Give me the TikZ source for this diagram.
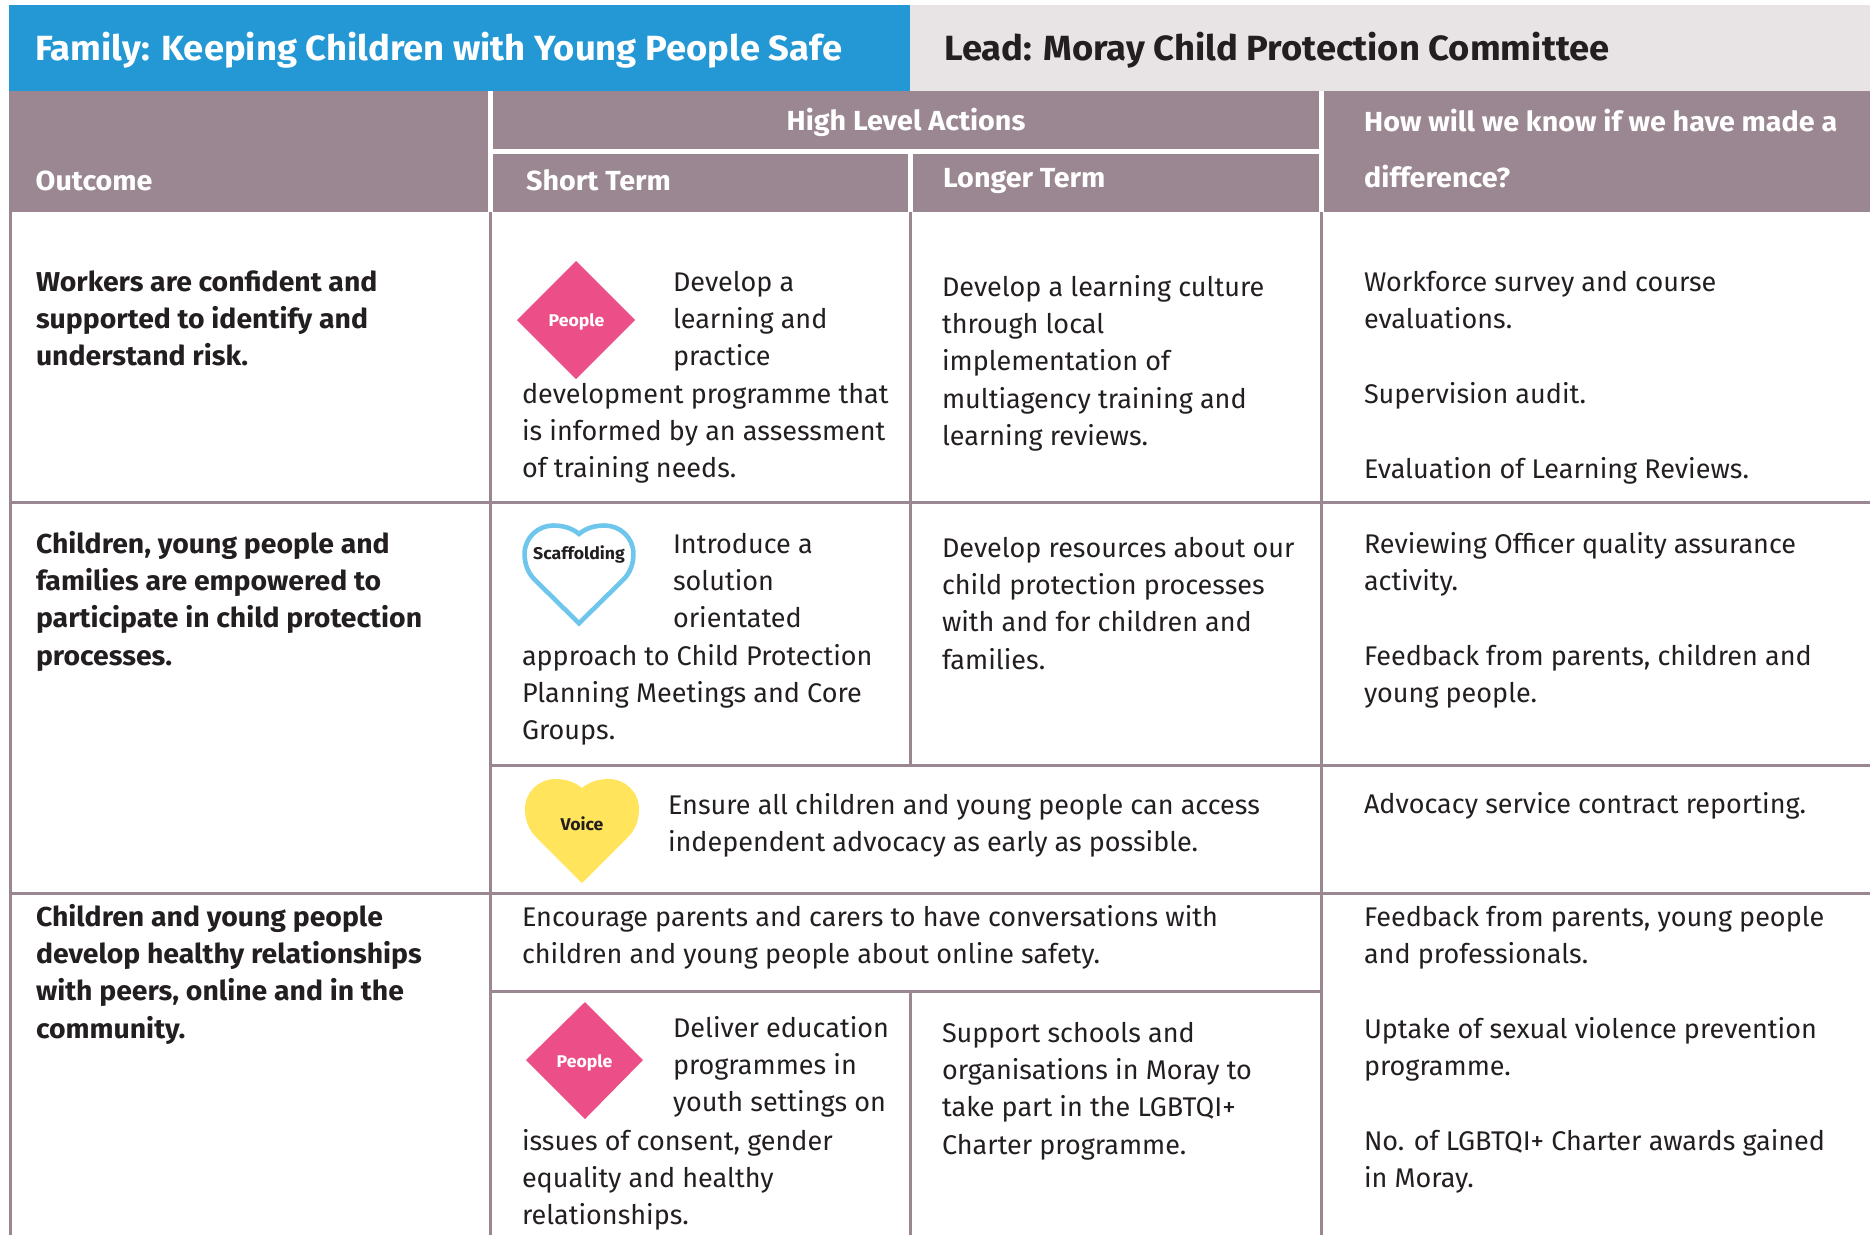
\documentclass[tikz,border=0pt]{standalone}
\usepackage{fontspec}
\setmainfont[BoldFeatures={FakeStretch=1.04}]{Fira Sans}
\definecolor{mauve}{HTML}{9A8791}
\definecolor{topblue}{HTML}{2398D5}
\definecolor{palegrey}{HTML}{E8E4E6}
\definecolor{ink}{HTML}{231F20}
\definecolor{pink}{HTML}{EC4F87}
\definecolor{skyline}{HTML}{6EC6EC}
\definecolor{sun}{HTML}{FFE45C}
\newcommand{\myheart}[5]{% cx, top, xscale, yscale, path options
  \path[#5,shift={(#1,#2)},xscale=#3,yscale=#4]
    (0,104) -- (-46,58) .. controls (-53,51) and (-57,42) .. (-57,30)
    .. controls (-57,13) and (-43,0) .. (-27,0)
    .. controls (-16,0) and (-7,3) .. (0,9)
    .. controls (7,3) and (16,0) .. (27,0)
    .. controls (43,0) and (57,13) .. (57,30)
    .. controls (57,42) and (53,51) .. (46,58) -- cycle;}
\tikzset{
  x=1pt,y=-1pt,
  body/.style={anchor=north west,inner sep=0pt,outer sep=0pt,align=left,text=ink,
    font=\fontsize{27}{37.4}\selectfont,yshift=26.18pt},
  bodyb/.style={body,font=\bfseries\fontsize{27.3}{37.4}\selectfont},
  title/.style={anchor=base west,inner sep=0pt,font=\bfseries\fontsize{35}{40}\selectfont},
  headtxt/.style={anchor=base west,inner sep=0pt,text=white,font=\bfseries\fontsize{27.6}{30}\selectfont},
  headtwo/.style={anchor=north west,inner sep=0pt,align=left,text=white,
    font=\bfseries\fontsize{27.6}{56}\selectfont,yshift=39.2pt},
  badge/.style={inner sep=0pt,font=\bfseries\fontsize{17}{20}\selectfont},
  grid/.style={draw=mauve,line width=3pt},
  gap/.style={draw=white,line width=5pt},
}
\begin{document}
\begin{tikzpicture}
\useasboundingbox (0,0) rectangle (1870,1235);
% banner
\fill[topblue] (9,5) rectangle (910,91);
\fill[palegrey] (910,5) rectangle (1870,91);
\fill[mauve] (9,91) rectangle (1870,212);
\draw[gap] (490,91) -- (490,212);
\draw[gap] (1321,91) -- (1321,212);
\draw[gap] (490,151) -- (1321,151);
\draw[gap] (910,151) -- (910,212);
% grid
\draw[grid] (10.5,212) -- (10.5,1235);
\draw[grid] (490,212) -- (490,1235);
\draw[grid] (910,212) -- (910,765);
\draw[grid] (910,991) -- (910,1235);
\draw[grid] (1321,212) -- (1321,1235);
\draw[grid] (9,502) -- (1870,502);
\draw[grid] (490,765) -- (1870,765);
\draw[grid] (9,893) -- (1870,893);
\draw[grid] (490,991) -- (1321,991);
% titles
\node[title,text=white] (family) at (35,60.5) {Family: Keeping Children with Young People Safe};
\node[title,text=ink] (lead) at (944,60.5) {Lead: Moray Child Protection Committee};
\node[headtxt] (outcome) at (35.5,190) {Outcome};
\node[headtxt,anchor=base] (high) at (906,130) {High Level Actions};
\node[headtxt] (short) at (526,190) {Short Term};
\node[headtxt] (longer) at (943,187) {Longer Term};
\node[headtwo] (how) at (1364,131) {\strut How will we know if we have made a\\difference?};
% outcomes
\node[bodyb] (o1) at (36,291) {\strut Workers are confident and\\supported to identify and\\understand risk.};
\node[bodyb] (o2) at (36,553) {\strut Children, young people and\\families are empowered to\\participate in child protection\\processes.};
\node[bodyb] (o3) at (36,926) {\strut Children and young people\\develop healthy relationships\\with peers, online and in the\\community.};
% short term
\node[body] (s1a) at (673,291) {\strut Develop a\\learning and\\practice};
\node[body] (s1b) at (522,403) {\strut development programme that\\is informed by an assessment\\of training needs.};
\node[body] (s2a) at (673,553) {\strut Introduce a\\solution\\orientated};
\node[body] (s2b) at (522,665) {\strut approach to Child Protection\\Planning Meetings and Core\\Groups.};
\node[body] (s3) at (668,814) {\strut Ensure all children and young people can access\\independent advocacy as early as possible.};
\node[body] (s4) at (522,926) {\strut Encourage parents and carers to have conversations with\\children and young people about online safety.};
\node[body] (s5a) at (673,1037) {\strut Deliver education\\programmes in\\youth settings on};
\node[body] (s5b) at (522,1150) {\strut issues of consent, gender\\equality and healthy\\relationships.};
% longer term
\node[body] (l1) at (942,296) {\strut Develop a learning culture\\through local\\implementation of\\multiagency training and\\learning reviews.};
\node[body] (l2) at (942,557) {\strut Develop resources about our\\child protection processes\\with and for children and\\families.};
\node[body] (l3) at (942,1042) {\strut Support schools and\\organisations in Moray to\\take part in the LGBTQI+\\Charter programme.};
% evidence
\node[body] (e1) at (1364,291) {\strut Workforce survey and course\\evaluations.\\[37.4pt]Supervision audit.\\[37.4pt]Evaluation of Learning Reviews.};
\node[body] (e2) at (1364,553) {\strut Reviewing Officer quality assurance\\activity.\\[37.4pt]Feedback from parents, children and\\young people.};
\node[body] (e3) at (1364,813) {\strut Advocacy service contract reporting.};
\node[body] (e4) at (1364,926) {\strut Feedback from parents, young people\\and professionals.\\[37.4pt]Uptake of sexual violence prevention\\programme.\\[37.4pt]No. of LGBTQI+ Charter awards gained\\in Moray.};
% badges
\fill[pink] (576,261) -- (635,320) -- (576,379) -- (517,320) -- cycle;
\node[badge,text=white] (b1) at (576.5,321.5) {People};
\myheart{579}{525.5}{0.955}{0.94}{draw=skyline,fill=white,line width=4.6pt}
\node[badge,text=ink] (b2) at (579,554) {Scaffolding};
\myheart{582}{779}{1}{1}{fill=sun}
\node[badge,text=ink] (b3) at (582,824) {Voice};
\fill[pink] (585,1002) -- (643,1060) -- (585,1119) -- (526,1060) -- cycle;
\node[badge,text=white] (b4) at (584.5,1062.5) {People};
\end{tikzpicture}
\end{document}
